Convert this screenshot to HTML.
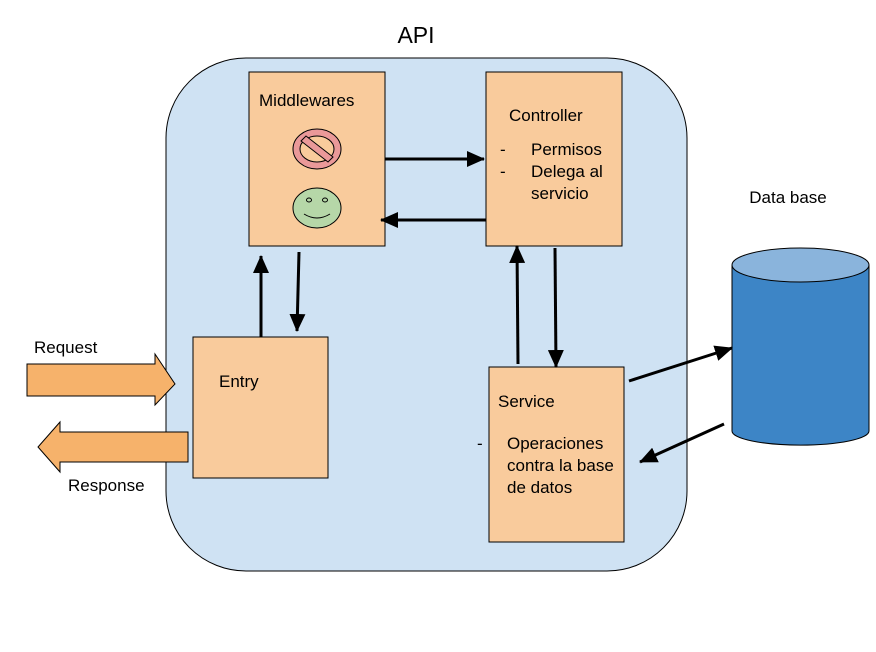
<!DOCTYPE html>
<html><head><meta charset="utf-8"><style>
html,body{margin:0;padding:0;background:#fff;width:876px;height:652px;overflow:hidden}
text{font-family:"Liberation Sans",Arial,sans-serif;fill:#000}
</style></head><body>
<svg width="876" height="652" viewBox="0 0 876 652" xmlns="http://www.w3.org/2000/svg">
<defs>
<marker id="ah2" markerWidth="18" markerHeight="16" refX="17" refY="8" orient="auto" markerUnits="userSpaceOnUse" viewBox="0 0 18 16">
<path d="M0,0 L18,8 L0,16 z" fill="#000"/></marker>
</defs>
<rect x="166" y="58" width="521" height="513" rx="80" ry="80" fill="#cfe2f3" stroke="#000" stroke-width="1"/>
<text x="416" y="43" font-size="23" text-anchor="middle">API</text>

<rect x="249" y="72" width="136" height="174" fill="#f9cb9c" stroke="#000"/>
<text x="259" y="106" font-size="17">Middlewares</text>
<ellipse cx="317" cy="149" rx="24" ry="20" fill="#ea9999" stroke="#000"/>
<ellipse cx="317" cy="149" rx="17" ry="13" fill="#f9cb9c" stroke="#000"/>
<path d="M301,141 L306,136 L333,157 L328,162 z" fill="#ea9999" stroke="#000"/>
<ellipse cx="317" cy="208" rx="24" ry="20" fill="#b6d7a8" stroke="#000"/>
<ellipse cx="309" cy="200" rx="2.5" ry="2" fill="none" stroke="#000"/>
<ellipse cx="325" cy="200" rx="2.5" ry="2" fill="none" stroke="#000"/>
<path d="M304,214 Q317,222 330,214" fill="none" stroke="#000"/>

<rect x="486" y="72" width="136" height="174" fill="#f9cb9c" stroke="#000"/>
<text x="509" y="121" font-size="17">Controller</text>
<text x="500" y="155" font-size="17">-</text>
<text x="531" y="155" font-size="17">Permisos</text>
<text x="500" y="177" font-size="17">-</text>
<text x="531" y="177" font-size="17">Delega al</text>
<text x="531" y="199" font-size="17">servicio</text>

<rect x="193" y="337" width="135" height="141" fill="#f9cb9c" stroke="#000"/>
<text x="219" y="387" font-size="17">Entry</text>

<rect x="489" y="367" width="135" height="175" fill="#f9cb9c" stroke="#000"/>
<text x="498" y="407" font-size="17">Service</text>
<text x="477" y="449" font-size="17">-</text>
<text x="507" y="449" font-size="17">Operaciones</text>
<text x="507" y="471" font-size="17">contra la base</text>
<text x="507" y="493" font-size="17">de datos</text>

<path d="M732,265 L732,431 A68,14 0 0 0 869,431 L869,265" fill="#3d85c6" stroke="#000"/>
<ellipse cx="800.5" cy="265" rx="68.5" ry="17" fill="#8ab4dc" stroke="#000"/>
<text x="788" y="203" font-size="17" text-anchor="middle">Data base</text>

<g stroke="#000" stroke-width="3">
<line x1="385" y1="159" x2="484" y2="159" marker-end="url(#ah2)"/>
<line x1="486" y1="220" x2="381" y2="220" marker-end="url(#ah2)"/>
<line x1="299" y1="252" x2="297" y2="331" marker-end="url(#ah2)"/>
<line x1="261" y1="337" x2="261" y2="256" marker-end="url(#ah2)"/>
<line x1="555" y1="248" x2="556" y2="367" marker-end="url(#ah2)"/>
<line x1="518" y1="364" x2="517" y2="246" marker-end="url(#ah2)"/>
<line x1="629" y1="381" x2="732" y2="348" marker-end="url(#ah2)"/>
<line x1="724" y1="424" x2="640" y2="462" marker-end="url(#ah2)"/>
</g>

<text x="34" y="353" font-size="17">Request</text>
<path d="M27,364 L155,364 L155,354 L175,384 L155,405 L155,396 L27,396 z" fill="#f6b26b" stroke="#000"/>
<path d="M188,432 L60,432 L60,422 L38,447 L60,472 L60,462 L188,462 z" fill="#f6b26b" stroke="#000"/>
<text x="68" y="491" font-size="17">Response</text>
</svg>
</body></html>
